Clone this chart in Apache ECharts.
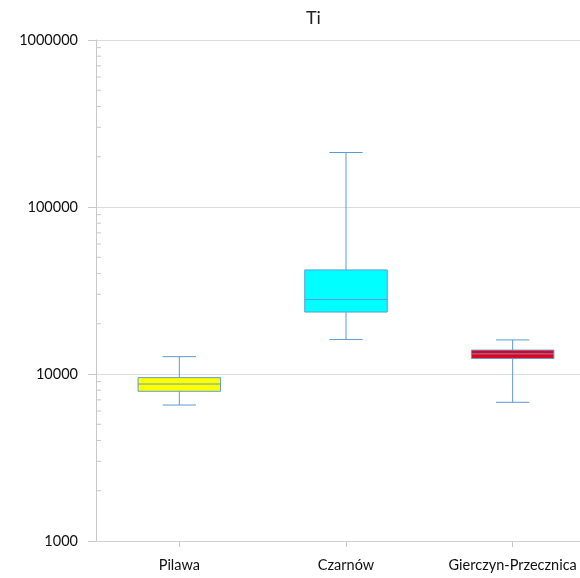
<!DOCTYPE html>
<html>
<head>
<meta charset="utf-8">
<script src="https://cdn.jsdelivr.net/npm/echarts@6/dist/echarts.min.js"></script>
<style>
  html, body { margin: 0; padding: 0; background: #fff; }
  #chart { width: 580px; height: 578px; }
</style>
</head>
<body>
<div id="chart"></div>
<script>
// Titanium concentration per site (log scale)
const title = 'Ti';
const categories = ['Pilawa', 'Czarnów', 'Gierczyn-Przecznica'];
// five-number summaries: [min, Q1, median, Q3, max]
const pilawa = [6520, 7880, 8710, 9510, 12700];
const czarnow = [16100, 23500, 27900, 42000, 212000];
const gierczyn = [6770, 12400, 13200, 13900, 16000];
const fills = ['#FFFF00', '#00FFFF', '#E3001B'];
const yTicks = [1000, 10000, 100000, 1000000];

const stats = [pilawa, czarnow, gierczyn];
const boxData = stats.map((s, i) => [i].concat(s));

// minor ticks 2..9 within each decade of the value axis
const minorValues = [];
for (let d = 0; d < yTicks.length - 1; d++) {
  for (let m = 2; m <= 9; m++) minorValues.push([0, yTicks[d] * m]);
}

const lineColor = '#5B9BD5';
const font = 'Lato';

const chart = echarts.init(document.getElementById('chart'));
chart.setOption({
  animation: false,
  backgroundColor: '#ffffff',
  title: {
    text: title,
    left: 301,
    top: 4,
    textStyle: { fontFamily: font, fontSize: 18, fontWeight: 'normal', color: '#222' }
  },
  // plot area runs past the right edge of the canvas
  grid: { left: 96, width: 500, top: 40, bottom: 37, outerBoundsMode: 'none', containLabel: false },
  xAxis: {
    type: 'category',
    data: categories,
    boundaryGap: true,
    axisLine: { show: true, lineStyle: { color: '#d0d0d0' } },
    axisTick: { show: true, alignWithLabel: true, length: 6, lineStyle: { color: '#c8c8c8' } },
    axisLabel: { fontFamily: font, fontSize: 14.5, color: '#111', margin: 17, interval: 0, hideOverlap: false },
    splitLine: { show: false }
  },
  yAxis: {
    type: 'log',
    logBase: 10,
    min: 1000,
    max: 1000000,
    axisLine: { show: true, lineStyle: { color: '#c8c8c8' } },
    axisTick: { show: true, inside: false, length: 8, lineStyle: { color: '#c8c8c8' } },
    axisLabel: {
      fontFamily: font, fontSize: 14.5, color: '#111', margin: 18,
      formatter: v => String(Math.round(v))
    },
    splitLine: { show: true, lineStyle: { color: '#dcdcdc' } },
    minorTick: { show: false }
  },
  series: [
    {
      // minor log ticks drawn inside the axis line
      type: 'custom',
      silent: true,
      clip: false,
      z: 3,
      data: minorValues,
      renderItem: function (params, api) {
        const y = api.coord([0, api.value(1)])[1];
        const x0 = params.coordSys.x;
        return {
          type: 'line',
          shape: { x1: x0, y1: y, x2: x0 + 5, y2: y },
          style: { stroke: '#c8c8c8', lineWidth: 1 }
        };
      }
    },
    {
      // box-and-whisker marks
      type: 'custom',
      z: 5,
      data: boxData,
      encode: { x: 0, y: [1, 2, 3, 4, 5] },
      renderItem: function (params, api) {
        const idx = api.value(0);
        const band = api.size([1, 0])[0];
        const boxW = band * 0.495;
        const capW = band * 0.2;
        const pMin = api.coord([idx, api.value(1)]);
        const pQ1 = api.coord([idx, api.value(2)]);
        const pMed = api.coord([idx, api.value(3)]);
        const pQ3 = api.coord([idx, api.value(4)]);
        const pMax = api.coord([idx, api.value(5)]);
        const cx = pMin[0];
        const stroke = { stroke: lineColor, lineWidth: 1 };
        return {
          type: 'group',
          children: [
            { type: 'line', shape: { x1: cx, y1: pMax[1], x2: cx, y2: pQ3[1] }, style: stroke },
            { type: 'line', shape: { x1: cx, y1: pQ1[1], x2: cx, y2: pMin[1] }, style: stroke },
            { type: 'line', shape: { x1: cx - capW / 2, y1: pMax[1], x2: cx + capW / 2, y2: pMax[1] }, style: stroke },
            { type: 'line', shape: { x1: cx - capW / 2, y1: pMin[1], x2: cx + capW / 2, y2: pMin[1] }, style: stroke },
            {
              type: 'rect',
              shape: { x: cx - boxW / 2, y: pQ3[1], width: boxW, height: pQ1[1] - pQ3[1] },
              style: { fill: fills[idx], stroke: lineColor, lineWidth: 1 }
            },
            { type: 'line', shape: { x1: cx - boxW / 2, y1: pMed[1], x2: cx + boxW / 2, y2: pMed[1] }, style: stroke }
          ]
        };
      }
    }
  ]
});
</script>
</body>
</html>
